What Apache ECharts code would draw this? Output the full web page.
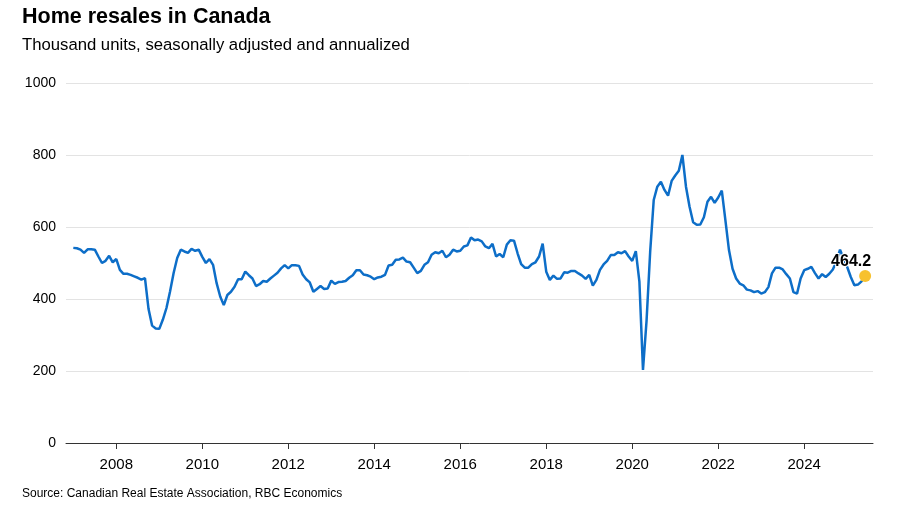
<!DOCTYPE html>
<html>
<head>
<meta charset="utf-8">
<script src="https://cdn.jsdelivr.net/npm/echarts@6.0.0/dist/echarts.min.js"></script>
<style>
html,body{margin:0;padding:0;background:#fff;}
#chart{width:904px;height:511px;}
</style>
</head>
<body>
<div id="chart"></div>
<script>
// Monthly series, Jan 2007 .. Jun 2025 (thousand units, SAAR)
const startYear = 2007;
const values2007 = [542, 541, 537, 528, 538, 538, 537, 518, 500, 506, 520, 502];
const values2008 = [511, 481, 470, 470, 467, 463, 459, 454, 458, 372, 326, 318];
const values2009 = [317, 343, 375, 421, 472, 514, 537, 532, 528, 539, 534, 537];
const values2010 = [517, 500, 511, 495, 444, 407, 383, 411, 420, 434, 455, 455];
const values2011 = [476, 466, 457, 436, 441, 450, 448, 457, 465, 473, 485, 494];
const values2012 = [485, 494, 494, 492, 468, 455, 446, 420, 428, 436, 428, 429];
const values2013 = [451, 442, 447, 448, 450, 459, 466, 480, 480, 468, 466, 462];
const values2014 = [455, 460, 462, 467, 493, 495, 509, 510, 515, 504, 502, 487];
const values2015 = [472, 478, 495, 502, 523, 530, 527, 534, 516, 523, 537, 532];
const values2016 = [534, 546, 549, 571, 563, 565, 560, 546, 541, 553, 518, 525];
const values2017 = [516, 551, 563, 562, 527, 497, 487, 487, 497, 502, 518, 554];
const values2018 = [476, 453, 465, 456, 457, 474, 473, 478, 478, 471, 465, 456];
const values2019 = [467, 437, 453, 481, 496, 506, 522, 522, 530, 527, 533, 518];
const values2020 = [506, 533, 448, 203, 340, 530, 675, 712, 726, 703, 687, 728];
const values2021 = [743, 756, 800, 712, 656, 613, 606, 607, 627, 670, 684, 667];
const values2022 = [682, 701, 619, 536, 484, 457, 443, 438, 426, 424, 419, 422];
const values2023 = [415, 419, 433, 471, 487, 487, 482, 469, 457, 419, 415, 457];
const values2024 = [480, 484, 489, 472, 457, 469, 461, 470, 482, 505, 537, 512];
const values2025 = [489, 461, 438, 440, 449, 464.2];

const yearTicks = [2008, 2010, 2012, 2014, 2016, 2018, 2020, 2022, 2024];
const yTicks = [0, 200, 400, 600, 800, 1000];

const allValues = [].concat(values2007, values2008, values2009, values2010, values2011,
  values2012, values2013, values2014, values2015, values2016, values2017, values2018,
  values2019, values2020, values2021, values2022, values2023, values2024, values2025);

// x position as decimal year (month index / 12)
const seriesData = allValues.map((v, i) => [startYear + i / 12, v]);
const last = seriesData[seriesData.length - 1];

const font = '"Liberation Sans", Arial, sans-serif';
const chart = echarts.init(document.getElementById('chart'), null, {renderer: 'canvas'});
chart.setOption({
  animation: false,
  backgroundColor: '#ffffff',
  title: [
    {text: 'Home resales in Canada', left: 22, top: 6, padding: 0,
     textStyle: {fontFamily: font, fontSize: 21.5, fontWeight: 'bold', color: '#000'}},
    {text: 'Thousand units, seasonally adjusted and annualized', left: 22, top: 37, padding: 0,
     textStyle: {fontFamily: font, fontSize: 16.7, fontWeight: 'normal', color: '#000'}},
    {text: 'Source: Canadian Real Estate Association, RBC Economics', left: 22, top: 488, padding: 0,
     textStyle: {fontFamily: font, fontSize: 12, fontWeight: 'normal', color: '#000'}}
  ],
  grid: {left: 66, right: 31, top: 83, bottom: 68, containLabel: false},
  xAxis: {
    type: 'value',
    min: 2006.83,
    max: 2025.6,
    axisLine: {show: true, lineStyle: {color: '#333', width: 1}},
    axisTick: {show: true, customValues: yearTicks, length: 6, lineStyle: {color: '#333'}},
    axisLabel: {customValues: yearTicks, fontFamily: font, fontSize: 15, color: '#000', margin: 14,
      formatter: v => String(Math.round(v))},
    splitLine: {show: false}
  },
  yAxis: {
    type: 'value',
    min: 0, max: 1000, interval: 200,
    axisLine: {show: false},
    axisTick: {show: false},
    axisLabel: {fontFamily: font, fontSize: 14, color: '#000', margin: 10,
      formatter: v => String(v)},
    splitLine: {show: true, lineStyle: {color: '#e3e3e3', width: 1}}
  },
  series: [
    {
      type: 'line',
      data: seriesData,
      showSymbol: false,
      symbol: 'none',
      lineStyle: {color: '#0d6ec8', width: 2.5},
      z: 2
    },
    {
      type: 'scatter',
      data: [last],
      symbolSize: 12,
      itemStyle: {color: '#f7c12e', opacity: 1},
      label: {
        show: true, position: 'top', offset: [-14, 5],
        formatter: p => p.value[1].toFixed(1),
        fontFamily: font, fontSize: 16, fontWeight: 'bold', color: '#000', opacity: 1,
        textBorderColor: '#fff', textBorderWidth: 2
      },
      z: 3
    }
  ]
});
</script>
</body>
</html>
